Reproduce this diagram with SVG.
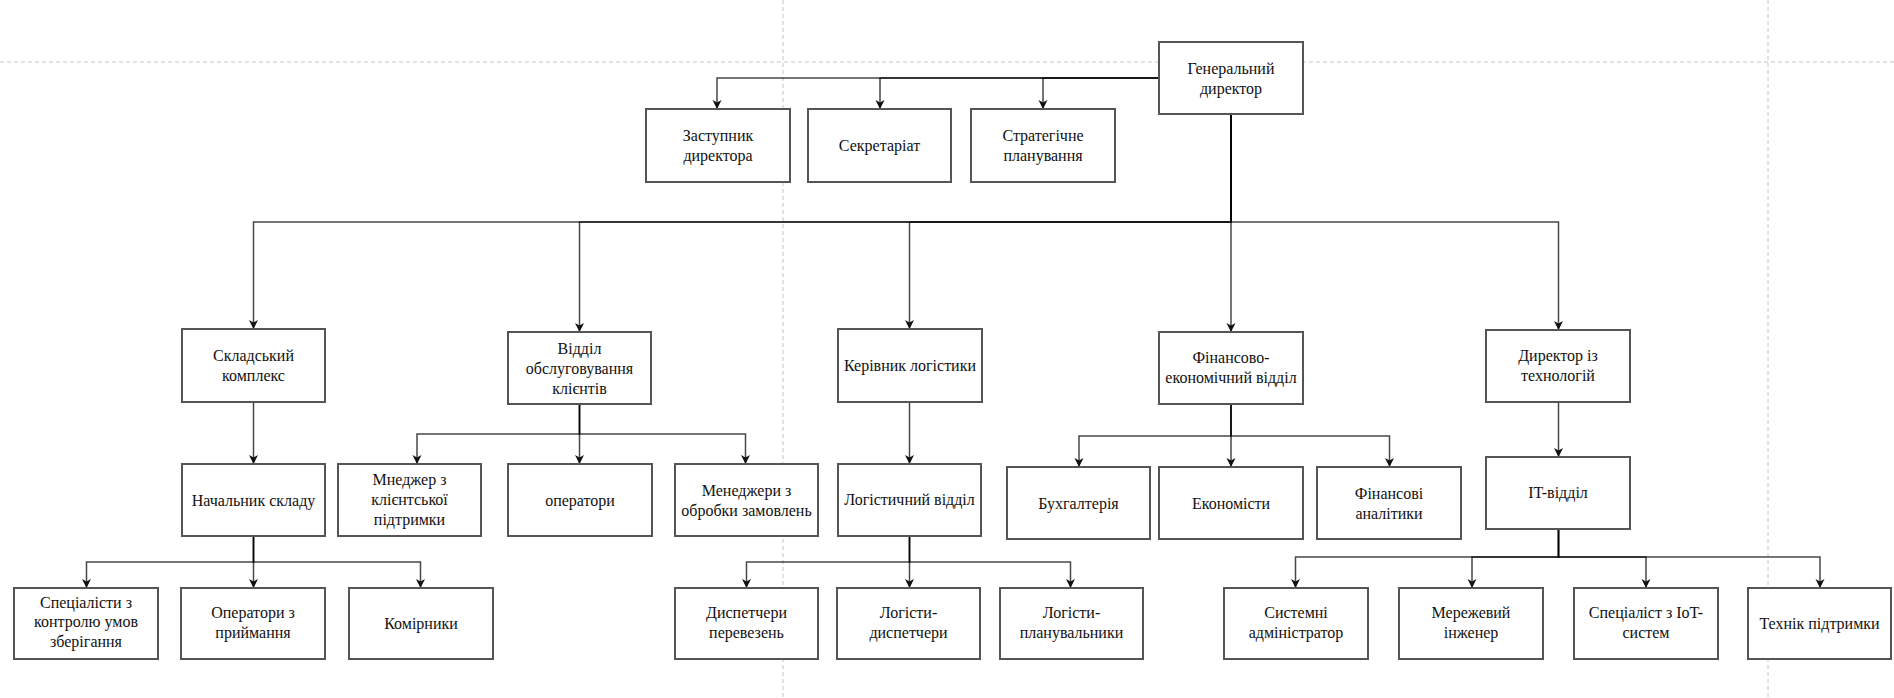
<svg xmlns="http://www.w3.org/2000/svg" width="1894" height="698" viewBox="0 0 1894 698">
  <style>
    .guide { stroke: #c4c4c4; stroke-width: 1; stroke-dasharray: 4 3; fill: none; }
    .box { fill: #ffffff; stroke: #555555; stroke-width: 2; }
    .edge { fill: none; stroke: #000000; stroke-opacity: 0.72; stroke-width: 1.5; marker-end: url(#arrow); }
    .lbl { font-family: "Liberation Serif", "Times New Roman", serif; font-size: 16px; fill: #111111; text-anchor: middle; }
  </style>
  <defs>
    <marker id="arrow" markerUnits="userSpaceOnUse" markerWidth="10" markerHeight="10" refX="9" refY="4.5" orient="auto">
      <path d="M0,0 L9,4.5 L0,9 L2.5,4.5 Z" fill="#111111"/>
    </marker>
  </defs>
  <rect x="0" y="0" width="1894" height="698" fill="#ffffff"/>

  <!-- page guides -->
  <g id="guides">
    <line class="guide" x1="0" y1="62" x2="1894" y2="62"/>
    <line class="guide" x1="783" y1="0" x2="783" y2="698"/>
    <line class="guide" x1="1768" y1="0" x2="1768" y2="698"/>
  </g>

  <!-- connectors -->
  <g id="connectors">
    <path class="edge" d="M1159,78 H717 V109"/>
    <path class="edge" d="M1159,78 H880 V109"/>
    <path class="edge" d="M1159,78 H1043 V109"/>
    <path class="edge" d="M1231,114 V222 H253.5 V329"/>
    <path class="edge" d="M1231,114 V222 H579.5 V332"/>
    <path class="edge" d="M1231,114 V222 H909.5 V329"/>
    <path class="edge" d="M1231,114 V332"/>
    <path class="edge" d="M1231,114 V222 H1558.5 V330"/>
    <path class="edge" d="M253.5,402 V464"/>
    <path class="edge" d="M579.5,404 V434 H417 V464"/>
    <path class="edge" d="M579.5,404 V464"/>
    <path class="edge" d="M579.5,404 V434 H745.5 V464"/>
    <path class="edge" d="M909.5,402 V464"/>
    <path class="edge" d="M1231,404 V436 H1079 V467"/>
    <path class="edge" d="M1231,404 V467"/>
    <path class="edge" d="M1231,404 V436 H1389.5 V467"/>
    <path class="edge" d="M1558.5,402 V457"/>
    <path class="edge" d="M253.5,536 V562 H86.5 V588"/>
    <path class="edge" d="M253.5,536 V588"/>
    <path class="edge" d="M253.5,536 V562 H420.5 V588"/>
    <path class="edge" d="M909.5,536 V562 H746.5 V588"/>
    <path class="edge" d="M909.5,536 V588"/>
    <path class="edge" d="M909.5,536 V562 H1070.5 V588"/>
    <path class="edge" d="M1558.5,529 V557 H1295.5 V588"/>
    <path class="edge" d="M1558.5,529 V557 H1472 V588"/>
    <path class="edge" d="M1558.5,529 V557 H1646 V588"/>
    <path class="edge" d="M1558.5,529 V557 H1820 V588"/>
  </g>

  <!-- top management -->
  <g id="gen-dir">
    <rect class="box" x="1159" y="42" width="144" height="72"/>
    <text class="lbl" x="1231" y="73.5">Генеральний</text>
    <text class="lbl" x="1231" y="93.5">директор</text>
  </g>
  <g id="deputy">
    <rect class="box" x="646" y="109" width="144" height="73"/>
    <text class="lbl" x="718" y="140.5">Заступник</text>
    <text class="lbl" x="718" y="160.5">директора</text>
  </g>
  <g id="secretariat">
    <rect class="box" x="808" y="109" width="143" height="73"/>
    <text class="lbl" x="879.5" y="150.5">Секретаріат</text>
  </g>
  <g id="strategy">
    <rect class="box" x="971" y="109" width="144" height="73"/>
    <text class="lbl" x="1043" y="140.5">Стратегічне</text>
    <text class="lbl" x="1043" y="160.5">планування</text>
  </g>

  <!-- departments -->
  <g id="warehouse">
    <rect class="box" x="182" y="329" width="143" height="73"/>
    <text class="lbl" x="253.5" y="361">Складський</text>
    <text class="lbl" x="253.5" y="381">комплекс</text>
  </g>
  <g id="client-service">
    <rect class="box" x="508" y="332" width="143" height="72"/>
    <text class="lbl" x="579.5" y="353.5">Відділ</text>
    <text class="lbl" x="579.5" y="373.5">обслуговування</text>
    <text class="lbl" x="579.5" y="393.5">клієнтів</text>
  </g>
  <g id="logistics-head">
    <rect class="box" x="838" y="329" width="144" height="73"/>
    <text class="lbl" x="910" y="371">Керівник логістики</text>
  </g>
  <g id="finance">
    <rect class="box" x="1159" y="332" width="144" height="72"/>
    <text class="lbl" x="1231" y="363">Фінансово-</text>
    <text class="lbl" x="1231" y="383">економічний відділ</text>
  </g>
  <g id="tech-dir">
    <rect class="box" x="1486" y="330" width="144" height="72"/>
    <text class="lbl" x="1558" y="361">Директор із</text>
    <text class="lbl" x="1558" y="381">технологій</text>
  </g>

  <!-- units -->
  <g id="warehouse-chief">
    <rect class="box" x="182" y="464" width="143" height="72"/>
    <text class="lbl" x="253.5" y="505.5">Начальник складу</text>
  </g>
  <g id="support-manager">
    <rect class="box" x="338" y="464" width="143" height="72"/>
    <text class="lbl" x="409.5" y="484.5">Мнеджер з</text>
    <text class="lbl" x="409.5" y="504.5">клієнтської</text>
    <text class="lbl" x="409.5" y="524.5">підтримки</text>
  </g>
  <g id="operators">
    <rect class="box" x="508" y="464" width="144" height="72"/>
    <text class="lbl" x="580" y="505.5">оператори</text>
  </g>
  <g id="order-managers">
    <rect class="box" x="675" y="464" width="143" height="72"/>
    <text class="lbl" x="746.5" y="495.5">Менеджери з</text>
    <text class="lbl" x="746.5" y="515.5">обробки замовлень</text>
  </g>
  <g id="logistics-dept">
    <rect class="box" x="838" y="464" width="143" height="72"/>
    <text class="lbl" x="909.5" y="505">Логістичний відділ</text>
  </g>
  <g id="accounting">
    <rect class="box" x="1007" y="467" width="143" height="72"/>
    <text class="lbl" x="1078.5" y="508.5">Бухгалтерія</text>
  </g>
  <g id="economists">
    <rect class="box" x="1159" y="467" width="144" height="72"/>
    <text class="lbl" x="1231" y="508.5">Економісти</text>
  </g>
  <g id="analysts">
    <rect class="box" x="1317" y="467" width="144" height="72"/>
    <text class="lbl" x="1389" y="498.5">Фінансові</text>
    <text class="lbl" x="1389" y="518.5">аналітики</text>
  </g>
  <g id="it-dept">
    <rect class="box" x="1486" y="457" width="144" height="72"/>
    <text class="lbl" x="1558" y="498">IT-відділ</text>
  </g>

  <!-- staff -->
  <g id="storage-specialists">
    <rect class="box" x="14" y="588" width="144" height="71"/>
    <text class="lbl" x="86" y="607.5">Спеціалісти з</text>
    <text class="lbl" x="86" y="627">контролю умов</text>
    <text class="lbl" x="86" y="646.5">зберігання</text>
  </g>
  <g id="receiving-operators">
    <rect class="box" x="181" y="588" width="144" height="71"/>
    <text class="lbl" x="253" y="618">Оператори з</text>
    <text class="lbl" x="253" y="638">приймання</text>
  </g>
  <g id="storekeepers">
    <rect class="box" x="349" y="588" width="144" height="71"/>
    <text class="lbl" x="421" y="628.5">Комірники</text>
  </g>
  <g id="dispatchers">
    <rect class="box" x="675" y="588" width="143" height="71"/>
    <text class="lbl" x="746.5" y="618">Диспетчери</text>
    <text class="lbl" x="746.5" y="638">перевезень</text>
  </g>
  <g id="logist-dispatchers">
    <rect class="box" x="837" y="588" width="143" height="71"/>
    <text class="lbl" x="908.5" y="618">Логісти-</text>
    <text class="lbl" x="908.5" y="638">диспетчери</text>
  </g>
  <g id="logist-planners">
    <rect class="box" x="1000" y="588" width="143" height="71"/>
    <text class="lbl" x="1071.5" y="618">Логісти-</text>
    <text class="lbl" x="1071.5" y="638">планувальники</text>
  </g>
  <g id="sysadmin">
    <rect class="box" x="1224" y="588" width="144" height="71"/>
    <text class="lbl" x="1296" y="618">Системні</text>
    <text class="lbl" x="1296" y="638">адміністратор</text>
  </g>
  <g id="network-engineer">
    <rect class="box" x="1399" y="588" width="144" height="71"/>
    <text class="lbl" x="1471" y="618">Мережевий</text>
    <text class="lbl" x="1471" y="638">інженер</text>
  </g>
  <g id="iot-specialist">
    <rect class="box" x="1574" y="588" width="144" height="71"/>
    <text class="lbl" x="1646" y="618">Спеціаліст з IoT-</text>
    <text class="lbl" x="1646" y="638">систем</text>
  </g>
  <g id="support-tech">
    <rect class="box" x="1748" y="588" width="143" height="71"/>
    <text class="lbl" x="1819.5" y="628.5">Технік підтримки</text>
  </g>
</svg>
